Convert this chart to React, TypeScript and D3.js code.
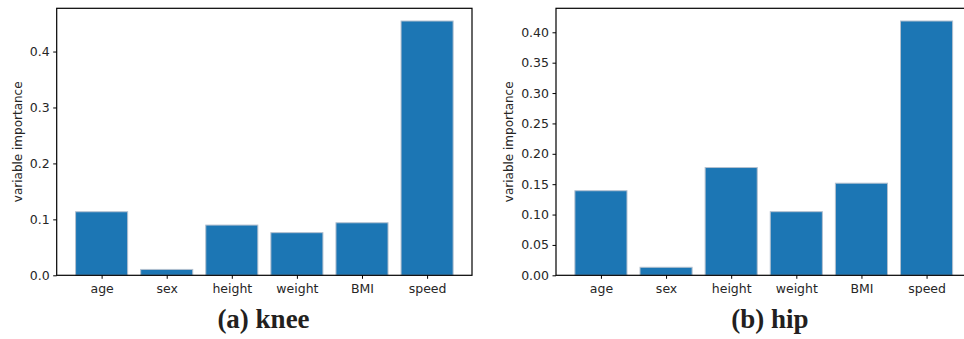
import { useEffect, useRef } from "react";
import * as d3 from "d3";

// feature names shared by both panels
const features = ["age", "sex", "height", "weight", "BMI", "speed"];

// variable importance
const kneeValues = [0.1136, 0.0105, 0.0898, 0.0762, 0.0939, 0.4546];
const hipValues = [0.1392, 0.0132, 0.1774, 0.1047, 0.1516, 0.4186];

const kneeTicks = [0, 0.1, 0.2, 0.3, 0.4];
const hipTicks = [0, 0.05, 0.1, 0.15, 0.2, 0.25, 0.3, 0.35, 0.4];

const panels = [
  { values: kneeValues, ticks: kneeTicks, fmt: ".1f", yMax: 0.4773, left: 56.7, right: 472, title: "(a) knee", titleX: 263.5, labelX: 22 },
  { values: hipValues, ticks: hipTicks, fmt: ".2f", yMax: 0.4395, left: 556, right: 971.5, title: "(b) hip", titleX: 770, labelX: 513 },
];

export default function App() {
  const ref = useRef<SVGSVGElement>(null);

  useEffect(() => {
    const svg = d3.select(ref.current);
    svg.selectAll("*").remove();

    const top = 8.3;
    const bottom = 275.3;
    const textColor = "#262626";

    panels.forEach((p) => {
      const x = d3.scaleLinear().domain([-0.69, 5.69]).range([p.left, p.right]);
      const y = d3.scaleLinear().domain([0, p.yMax]).range([bottom, top]);
      const g = svg.append("g");

      // bars
      g.append("g")
        .selectAll("rect")
        .data(p.values)
        .join("rect")
        .attr("x", (_, i) => x(i - 0.4))
        .attr("width", x(0.4) - x(-0.4))
        .attr("y", (d) => y(d))
        .attr("height", (d) => y(0) - y(d))
        .attr("fill", "#1c76b4")
        .attr("stroke", "#b3c0cf")
        .attr("stroke-width", 1);

      // frame
      g.append("rect")
        .attr("x", p.left)
        .attr("y", top)
        .attr("width", p.right - p.left)
        .attr("height", bottom - top)
        .attr("fill", "none")
        .attr("stroke", "#000")
        .attr("stroke-width", 1.2);

      // y axis
      g.append("g")
        .attr("transform", `translate(${p.left},0)`)
        .call(d3.axisLeft(y).tickValues(p.ticks).tickFormat(d3.format(p.fmt)).tickSize(3.5).tickPadding(3.5))
        .call((a) => a.select(".domain").remove())
        .call((a) => a.selectAll("line").attr("stroke", "#000"))
        .call((a) =>
          a.selectAll("text").attr("fill", textColor).style("font-family", "DejaVu Sans").style("font-size", "12.5px")
        );

      // x axis
      g.append("g")
        .attr("transform", `translate(0,${bottom})`)
        .call(
          d3.axisBottom(x)
            .tickValues(d3.range(features.length))
            .tickFormat((i) => features[i as number])
            .tickSize(3.5)
            .tickPadding(5)
        )
        .call((a) => a.select(".domain").remove())
        .call((a) => a.selectAll("line").attr("stroke", "#000"))
        .call((a) =>
          a.selectAll("text").attr("fill", textColor).style("font-family", "DejaVu Sans").style("font-size", "12.5px")
        );

      // y label
      g.append("text")
        .attr("transform", `translate(${p.labelX},${(top + bottom) / 2}) rotate(-90)`)
        .attr("text-anchor", "middle")
        .attr("fill", textColor)
        .style("font-family", "DejaVu Sans")
        .style("font-size", "12px")
        .text("variable importance");

      // subcaption
      g.append("text")
        .attr("x", p.titleX)
        .attr("y", 328)
        .attr("text-anchor", "middle")
        .attr("fill", "#231f20")
        .style("font-family", "Liberation Serif")
        .style("font-weight", "bold")
        .style("font-size", "27px")
        .text(p.title);
    });
  }, []);

  return (
    <svg
      ref={ref}
      width={964}
      height={339}
      style={{ position: "absolute", left: 0, top: 0, background: "#fff" }}
    />
  );
}
